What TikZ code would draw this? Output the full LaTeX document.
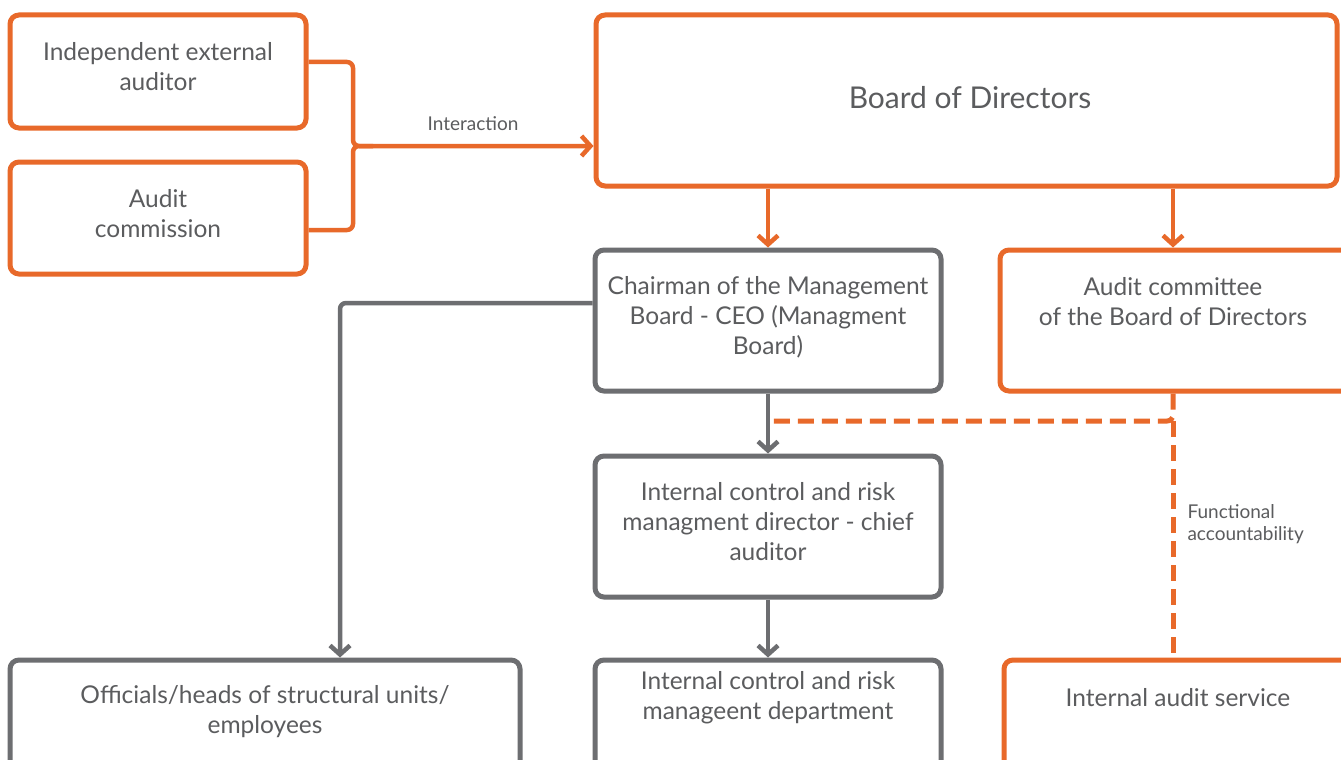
\documentclass[tikz,border=0pt]{standalone}
\usepackage{fontspec}
\setmainfont{Lato}
\usepackage{tikz}
\usetikzlibrary{arrows.meta}
\definecolor{orng}{HTML}{E8692A}
\definecolor{gry}{HTML}{6D6E71}
\definecolor{txt}{HTML}{5B5C5E}

\begin{document}
\begin{tikzpicture}[x=1pt,y=-1pt,
  obox/.style={draw=orng,line width=5pt,rounded corners=9pt,fill=white,inner sep=0pt},
  gbox/.style={obox,draw=gry},
  btext/.style={text=txt,align=center,font=\fontsize{24.5}{30}\selectfont},
  small/.style={text=txt,font=\fontsize{19}{22}\selectfont},
  oline/.style={draw=orng,line width=4.5pt,-{Straight Barb[length=9pt,width=20pt]}},
  gline/.style={oline,draw=gry},
  odash/.style={draw=orng,line width=5pt,dash pattern=on 16pt off 8pt}]
\useasboundingbox (0,0) rectangle (1341,760);
\clip (0,0) rectangle (1341,760);
\fill[white] (0,0) rectangle (1341,760);
% boxes
\node[obox,minimum width=296pt,minimum height=113pt] (ext) at (158,71.5) {};
\node[obox,minimum width=296pt,minimum height=112pt] (acomm) at (158,218) {};
\node[obox,minimum width=741pt,minimum height=171pt] (board) at (966.5,100.5) {};
\node[gbox,minimum width=346pt,minimum height=141pt] (chair) at (768,320.5) {};
\node[obox,minimum width=400pt,minimum height=141pt] (audcom) at (1200,320.5) {};
\node[gbox,minimum width=346pt,minimum height=141pt] (direc) at (768,526.5) {};
\node[gbox,minimum width=510pt,minimum height=200pt] (offi) at (265,760) {};
\node[gbox,minimum width=346pt,minimum height=200pt] (dept) at (768,760) {};
\node[obox,minimum width=400pt,minimum height=200pt] (ias) at (1204,760) {};
% texts
\node[btext] (ext-t) at (158,67) {Independent external\\auditor};
\node[btext] (acomm-t) at (158,214) {Audit\\commission};
\node[btext,font=\fontsize{30}{34}\selectfont] (board-t) at (970,98) {Board of Directors};
\node[btext] (chair-t) at (768,317) {Chairman of the Management\\Board - CEO (Managment\\Board)};
\node[btext] (audcom-t) at (1173,302) {Audit committee\\of the Board of Directors};
\node[btext] (direc-t) at (768,522) {Internal control and risk\\managment director - chief\\auditor};
\node[btext] (offi-t) at (265,712) {Officials/heads of structural units/\\employees};
\node[btext] (dept-t) at (768,698) {Internal control and risk\\manageent department};
\node[btext] (ias-t) at (1178,698) {Internal audit service};
% connectors
\coordinate (join) at (353,146);
\draw[oline,rounded corners=6pt] ([yshift=9.5pt]ext.east) -| (join) -- (board.west |- join);
\draw[oline,-,rounded corners=6pt] ([yshift=-12pt]acomm.east) -| (join) -- ++(20,0);
\node[small] (inter) at (473,124) {Interaction};
\draw[oline] (board.south -| chair) -- (chair.north);
\draw[oline] (board.south -| audcom-t) -- (audcom-t |- audcom.north);
\coordinate (fork) at (1173,421);
\draw[odash,rounded corners=6pt] (audcom-t |- audcom.south) -- (fork) -- (fork -| chair);
\draw[odash] (fork) -- (fork |- ias.north);
\node[small,anchor=west,align=left] (func) at (1184,524) {Functional\\accountability};
\draw[gline,rounded corners=6pt] ([yshift=17.5pt]chair.west) -| ([xshift=75pt]offi.north);
\draw[gline] (chair.south) -- (direc.north);
\draw[gline] (direc.south) -- (dept.north);
\end{tikzpicture}
\end{document}
